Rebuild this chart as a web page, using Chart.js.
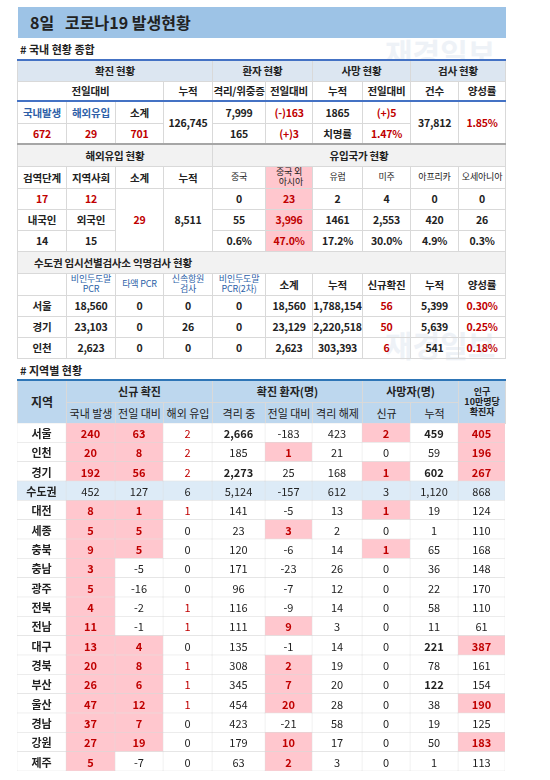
<!DOCTYPE html>
<html><head><meta charset="utf-8">
<script src="https://cdn.jsdelivr.net/npm/chart.js@4"></script>
<style>
body{margin:0;background:#fff;font-family:"Noto Sans CJK KR","Noto Sans",sans-serif;color:#222;width:550px;height:780px;position:relative;overflow:hidden}
#title{position:absolute;left:18px;top:7px;width:488px;height:31px;background:#9dc3e6;font-size:16px;font-weight:bold;line-height:31px;padding-left:12px;box-sizing:border-box}
.sec{position:absolute;left:20px;font-size:11px;font-weight:bold}
table{border-collapse:collapse;table-layout:fixed;position:absolute;left:17px;width:488px;font-size:11px;text-align:center}
#t1{font-size:10.5px;letter-spacing:-0.2px}
td{border:1px solid #d9d9d9;padding:0;overflow:hidden;white-space:nowrap;font-weight:bold}
.h{background:#dce6f1}.g{background:#f2f2f2}.r{color:#c00000}.b{color:#2e5fa8}.pk{background:#ffc7ce}
.sm{font-size:9px;line-height:10px;font-weight:normal}
.wm{position:absolute;color:#eef2f7;font-size:30px;font-weight:bold;z-index:-1}
</style></head><body>
<div id="title">8일 &nbsp;&nbsp;코로나19 발생현황</div>
<div class="wm" style="left:385px;top:30px">재경일보</div>
<div class="wm" style="left:385px;top:322px">재경일보</div>
<div class="sec" style="top:41px"># 국내 현황 종합</div>
<table id="t1" style="top:59px">
<colgroup><col style="width:49px"><col style="width:49px"><col style="width:48px"><col style="width:49px"><col style="width:53px"><col style="width:47px"><col style="width:50px"><col style="width:48px"><col style="width:48px"><col style="width:47px"></colgroup>
<tr class="h" style="height:21px;border-top:2px solid #4472c4"><td colspan="4">확진 현황</td><td colspan="2">환자 현황</td><td colspan="2">사망 현황</td><td colspan="2">검사 현황</td></tr>
<tr style="height:20px;border-bottom:2px solid #4472c4"><td colspan="3">전일대비</td><td>누적</td><td>격리/위중증</td><td>전일대비</td><td>누적</td><td>전일대비</td><td>건수</td><td>양성률</td></tr>
<tr style="height:22px"><td class="b">국내발생</td><td class="b">해외유입</td><td>소계</td><td rowspan="2">126,745</td><td>7,999</td><td class="r">(-)163</td><td>1865</td><td class="r">(+)5</td><td rowspan="2">37,812</td><td rowspan="2" class="r">1.85%</td></tr>
<tr style="height:21px;border-bottom:2px solid #a6a6a6"><td class="r">672</td><td class="r">29</td><td class="r">701</td><td>165</td><td class="r">(+)3</td><td>치명률</td><td class="r">1.47%</td></tr>
<tr class="g" style="height:22px"><td colspan="4">해외유입 현황</td><td colspan="6">유입국가 현황</td></tr>
<tr style="height:22px"><td>검역단계</td><td>지역사회</td><td>소계</td><td>누적</td><td class="sm">중국</td><td class="sm pk" style="color:#222">중국 외<br>&nbsp;&nbsp;아시아</td><td class="sm">유럽</td><td class="sm">미주</td><td class="sm">아프리카</td><td class="sm">오세아니아</td></tr>
<tr style="height:21px"><td class="r">17</td><td class="r">12</td><td rowspan="3" class="r">29</td><td rowspan="3">8,511</td><td>0</td><td class="pk r">23</td><td>2</td><td>4</td><td>0</td><td>0</td></tr>
<tr style="height:21px"><td>내국인</td><td>외국인</td><td>55</td><td class="pk r">3,996</td><td>1461</td><td>2,553</td><td>420</td><td>26</td></tr>
<tr style="height:21px"><td>14</td><td>15</td><td>0.6%</td><td class="pk r">47.0%</td><td>17.2%</td><td>30.0%</td><td>4.9%</td><td>0.3%</td></tr>
<tr class="g" style="height:22px"><td colspan="10" style="text-align:left;padding-left:16px">수도권 임시선별검사소 익명검사 현황</td></tr>
<tr style="height:22px"><td></td><td class="sm b">비인두도말<br>PCR</td><td class="sm b">타액 PCR</td><td class="sm b">신속항원<br>검사</td><td class="sm b">비인두도말<br>PCR(2차)</td><td>소계</td><td>누적</td><td>신규확진</td><td>누적</td><td>양성률</td></tr>
<tr style="height:21px"><td>서울</td><td>18,560</td><td>0</td><td>0</td><td>0</td><td>18,560</td><td>1,788,154</td><td class="r">56</td><td>5,399</td><td class="r">0.30%</td></tr>
<tr style="height:21px"><td>경기</td><td>23,103</td><td>0</td><td>26</td><td>0</td><td>23,129</td><td>2,220,518</td><td class="r">50</td><td>5,639</td><td class="r">0.25%</td></tr>
<tr style="height:21px"><td>인천</td><td>2,623</td><td>0</td><td>0</td><td>0</td><td>2,623</td><td>303,393</td><td class="r">6</td><td>541</td><td class="r">0.18%</td></tr>
</table>
<div class="sec" style="top:362px"># 지역별 현황</div>
<table style="top:379px;background:#bdd7ee">
<colgroup><col style="width:49px"><col style="width:49px"><col style="width:48px"><col style="width:49px"><col style="width:53px"><col style="width:47px"><col style="width:50px"><col style="width:48px"><col style="width:48px"><col style="width:47px"></colgroup>
<tr style="height:22px;border-top:2px solid #2e75b6"><td rowspan="2" style="font-size:12px">지역</td><td colspan="3">신규 확진</td><td colspan="3">확진 환자(명)</td><td colspan="2">사망자(명)</td><td rowspan="2" class="sm" style="font-weight:bold">인구<br>10만명당<br>확진자</td></tr>
<tr style="height:21px"><td style="font-weight:normal">국내 발생</td><td style="font-weight:normal">전일 대비</td><td style="font-weight:normal">해외 유입</td><td style="font-weight:normal">격리 중</td><td style="font-weight:normal">전일 대비</td><td style="font-weight:normal">격리 해제</td><td style="font-weight:normal">신규</td><td style="font-weight:normal">누적</td></tr>
</table>
<div style="position:absolute;left:17px;top:423px;width:488px;height:348px"><canvas id="c"></canvas></div>
<script>
const regions=['서울','인천','경기','수도권','대전','세종','충북','충남','광주','전북','전남','대구','경북','부산','울산','경남','강원','제주'];
const domestic=[240,20,192,452,8,5,9,3,5,4,11,13,20,26,47,37,27,5];
const domesticChange=[63,8,56,127,1,5,5,-5,-16,-2,-1,4,8,6,12,7,19,-7];
const imported=[2,2,2,6,1,0,0,0,0,1,1,0,1,1,1,0,0,0];
const isolating=[2666,185,2273,5124,141,23,120,171,96,116,111,135,308,345,454,423,179,63];
const isolatingChange=[-183,1,25,-157,-5,3,-6,-23,-7,-9,9,-1,2,7,20,-21,10,2];
const released=[423,21,168,612,13,2,14,26,12,14,3,14,19,20,28,58,17,3];
const deathNew=[2,0,1,3,1,0,1,0,0,0,0,0,0,0,0,0,0,0];
const deathTotal=[459,59,602,1120,19,1,65,36,22,58,11,221,78,122,38,19,50,1];
const per100k=[405,196,267,868,124,110,168,148,170,110,61,387,161,154,190,125,183,113];
const highlights=[[0,1,6,8],[0,1,4,8],[0,1,6,8],[],[0,1,6],[0,1,4],[0,1,6],[0],[0],[0],[0,4],[0,1,8],[0,1,4],[0,1,4],[0,1,4,8],[0,1],[0,1,4,8],[0,4]];
const boldCells=[[0,3,7,8],[],[0,3,7,8],[],[],[],[],[],[],[],[],[7,8],[],[7],[0,8],[],[8],[]];
const cols=[domestic,domesticChange,imported,isolating,isolatingChange,released,deathNew,deathTotal,per100k];
const edges=[0,49,98,146,195,248,295,345,393,441,488];
const fmt=v=>v.toLocaleString('en-US');
const datasets=[];
for(let c=0;c<10;c++){
  datasets.push({data:regions.map(()=>[edges[c],edges[c+1]]),
    backgroundColor:regions.map((r,i)=>r==='수도권'?'#ddebf7':(c>0&&highlights[i].includes(c-1)?'#ffc7ce':'#ffffff')),
    borderColor:'#d9d9d9',borderWidth:0.5,borderSkipped:false,barPercentage:1,categoryPercentage:1,grouped:false});
}
const textPlugin={id:'txt',afterDatasetsDraw(ch){
  const ctx=ch.ctx;ctx.save();ctx.textAlign='center';ctx.textBaseline='middle';
  ch.data.datasets.forEach((ds,c)=>{
    ch.getDatasetMeta(c).data.forEach((el,i)=>{
      const x=(el.x+el.base)/2,y=el.y;let t,col='#222',w='normal';
      if(c===0){t=regions[i];w='bold';}
      else{
        const v=cols[c-1][i];t=fmt(v);
        const pink=highlights[i].includes(c-1);
        if(regions[i]!=='수도권'){
          if(c===1||pink||((c===3||c===7)&&v>0))col='#c00000';
          if(pink||c===1||boldCells[i].includes(c-1))w='bold';
        }
      }
      ctx.fillStyle=col;ctx.font=w+' 11px "Noto Sans CJK KR"';ctx.fillText(t,x,y+1);
    });
  });
  ctx.restore();}};
new Chart(document.getElementById('c'),{type:'bar',data:{labels:regions,datasets},
  options:{indexAxis:'y',responsive:true,maintainAspectRatio:false,animation:false,
    layout:{padding:0},
    plugins:{legend:{display:false},tooltip:{enabled:false}},
    scales:{x:{type:'linear',min:0,max:488,display:false},y:{display:false}}},
  plugins:[textPlugin]});
</script>
</body></html>
